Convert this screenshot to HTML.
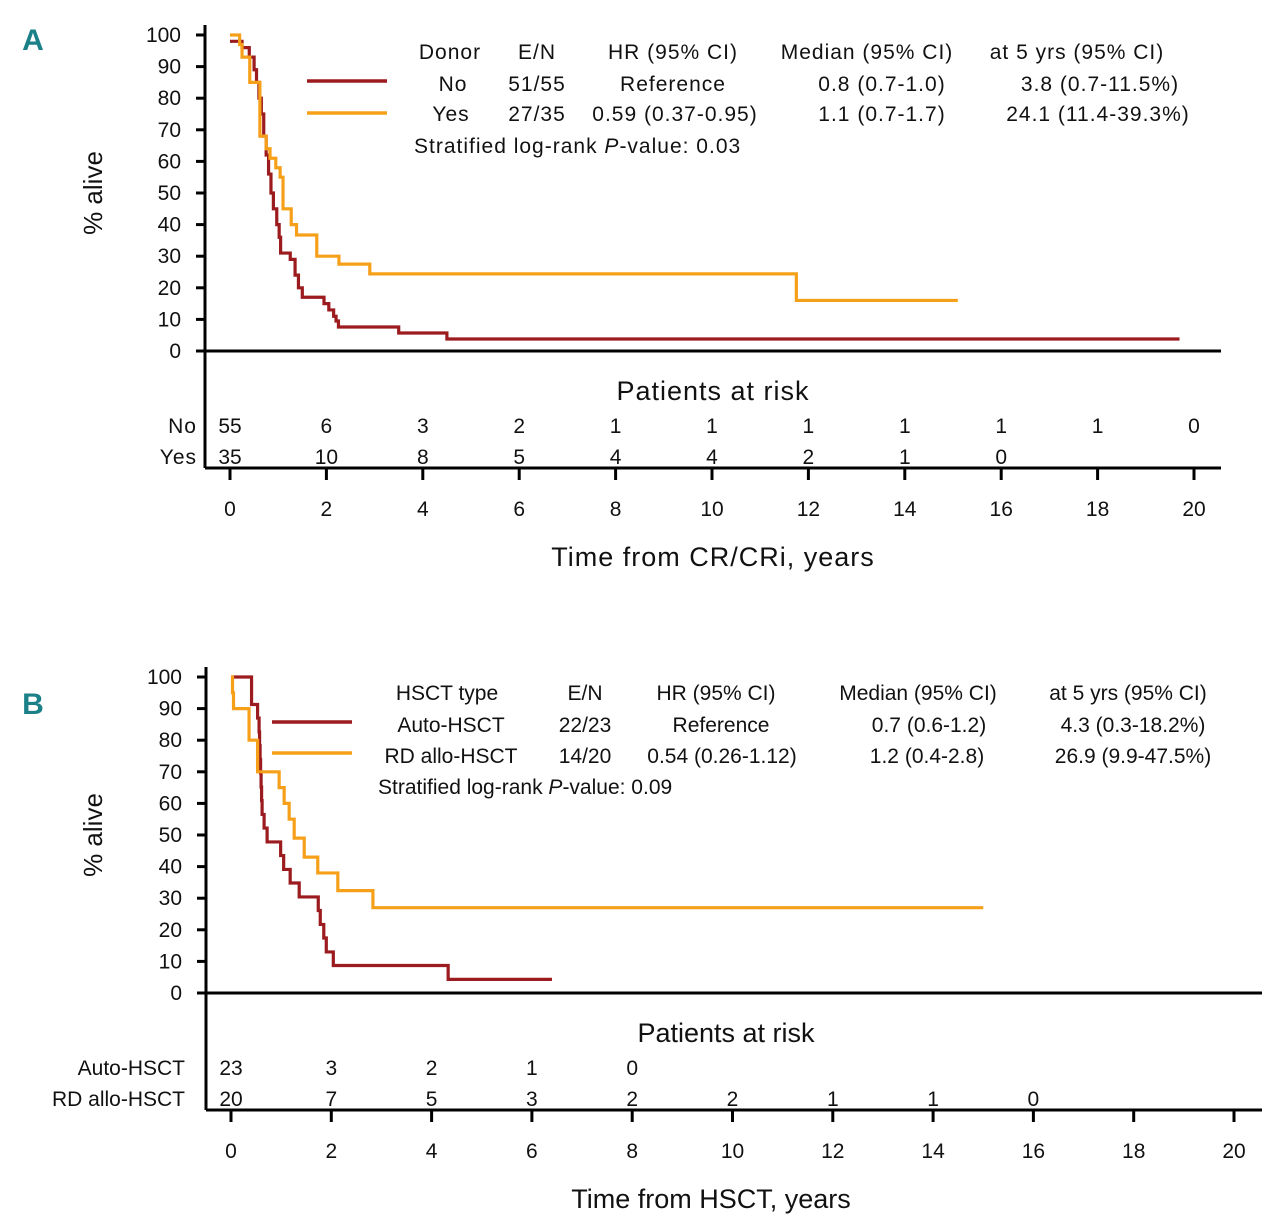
<!DOCTYPE html>
<html><head><meta charset="utf-8"><style>
html,body{margin:0;padding:0;background:#fff;}
svg text{font-family:"Liberation Sans",sans-serif;fill:#111;}
</style></head><body>
<svg id="chart" width="1280" height="1227" viewBox="0 0 1280 1227" xmlns="http://www.w3.org/2000/svg"></svg>
<script>
// ---- Panel A data ----
const aNoTimes = [0,0.25,0.4,0.5,0.55,0.6,0.65,0.7,0.75,0.8,0.85,0.9,0.97,1.02,1.05,1.25,1.35,1.42,1.5,1.95,2.05,2.15,2.2,2.25,3.5,4.5];
const aNoSurv  = [98,96,93,89,85,80,75,68,62,56,50,45,40,36,31,29,24,20,17,15,13,11,9.5,7.6,5.7,3.8];
const aNoEnd = 19.7;
const aYesTimes = [0,0.2,0.25,0.41,0.62,0.75,0.83,0.95,1.04,1.1,1.27,1.38,1.8,2.26,2.9,11.75];
const aYesSurv  = [100,97,93,85,68,64,61,58,55,45,40,36.7,30,27.5,24.4,16];
const aYesEnd = 15.1;
const aRiskNo  = ["55","6","3","2","1","1","1","1","1","1","0"];
const aRiskYes = ["35","10","8","5","4","4","2","1","0"];
// ---- Panel B data ----
const bAutoTimes = [0,0.41,0.53,0.56,0.57,0.58,0.59,0.6,0.61,0.62,0.66,0.72,0.99,1.05,1.18,1.36,1.74,1.78,1.85,1.9,2.04];
const bAutoSurv  = [100,91.3,87,82.6,78.3,73.9,69.6,65.2,60.9,56.5,52.2,47.8,43.5,39.1,34.8,30.4,26.1,21.7,17.4,13,8.7];
const bAutoLast = 4.3, bAutoLastT = 4.33, bAutoEnd = 6.4;
const bAlloTimes = [0,0.03,0.05,0.36,0.53,0.96,1.06,1.16,1.26,1.46,1.73,2.13,2.83];
const bAlloSurv  = [100,95,90,80,70,65,60,55,49,43,38,32.4,27];
const bAlloEnd = 15;
const bRiskAuto = ["23","3","2","1","0"];
const bRiskAllo = ["20","7","5","3","2","2","1","1","0"];
const xTicks = [0,2,4,6,8,10,12,14,16,18,20];
const yTicks = [0,10,20,30,40,50,60,70,80,90,100];

const svg = document.getElementById('chart');
const NS = 'http://www.w3.org/2000/svg';
function mk(tag, attrs, parent){const e=document.createElementNS(NS,tag);for(const k in attrs)e.setAttribute(k,attrs[k]);(parent||svg).appendChild(e);return e;}
function txt(s,x,y,size,anchor,parent,extra){const t=mk('text',Object.assign({x:x,y:y,'font-size':size,'text-anchor':anchor||'start'},extra||{}),parent);t.textContent=s;return t;}

function panel(cfg){
  const g = mk('g',{});
  
  
  const X = t => cfg.x0 + t*(cfg.x20-cfg.x0)/20;
  const Y = s => cfg.y0 - s*(cfg.y0-cfg.y100)/100;
  const L = txt(cfg.letter, 33, cfg.letterY, 30, 'middle', g, {'font-weight':'bold',style:'fill:#1b8088'});
  
  
  const ax = mk('path',{d:`M${cfg.axX},${cfg.top} V${cfg.bottom} M${cfg.axX},${Y(0)} H${cfg.right} M${cfg.axX},${cfg.bottom} H${cfg.right}`,stroke:'#000','stroke-width':3,fill:'none'},g);
  
  
  yTicks.forEach(v=>{
    mk('line',{x1:cfg.axX-9,x2:cfg.axX,y1:Y(v),y2:Y(v),stroke:'#000','stroke-width':3},g);
    const t=txt(String(v),cfg.axX-24,Y(v)+7,21,'end',g);
    
    
  });
  xTicks.forEach(v=>{
    mk('line',{x1:X(v),x2:X(v),y1:cfg.bottom,y2:cfg.bottom+12,stroke:'#000','stroke-width':3},g);
    const t=txt(String(v),X(v),cfg.bottom+48,21,'middle',g);
    
    
  });
  const yt = txt('% alive',0,0,26,'middle',g,{transform:`translate(102,${(Y(0)+Y(100))/2}) rotate(-90)`});
  
  
  const xt = txt(cfg.xTitle,cfg.xTitleX,cfg.bottom+98,27,'middle',g,{'letter-spacing':cfg.ls});
  
  
  cfg.series.forEach(s=>{
    let d=`M${X(s.times[0])},${Y(s.surv[0])}`;
    for(let i=1;i<s.times.length;i++){d+=` H${X(s.times[i])} V${Y(s.surv[i])}`;}
    if(s.last!==undefined){d+=` H${X(s.lastT)} V${Y(s.last)}`;}
    d+=` H${X(s.end)}`;
    const p=mk('path',{d:d,stroke:s.color,'stroke-width':3.2,fill:'none'},g);
    
    
  });
  const rt = txt('Patients at risk',cfg.riskTitleX,cfg.riskY,27,'middle',g,{'letter-spacing':cfg.ls});
  
  
  cfg.risk.forEach(r=>{
    const lab=txt(r.label,cfg.riskLabelX,r.y,21,'end',g,{'letter-spacing':cfg.ls});
    
    
    r.vals.forEach((v,i)=>{
      const t=txt(v,X(xTicks[i]),r.y,21,'middle',g);
      
      
    });
  });
  cfg.legendLines.forEach(l=>{
    const ln=mk('line',{x1:l.x1,x2:l.x2,y1:l.y,y2:l.y,stroke:l.color,'stroke-width':3.5},g);
    
    
  });
  cfg.legendText.forEach(l=>{
    const t=txt(l[0],l[1],l[2],21,l[3]||'middle',g,{'letter-spacing':cfg.ls});
    if(l[4]){t.innerHTML=l[4];}
    
    
  });
}

panel({name:'panel-a',letter:'A',letterY:50,x0:230,x20:1194,y0:351,y100:35,axX:205,top:25,bottom:468,right:1221,
  xTitle:'Time from CR/CRi, years',xTitleX:713,ls:'1px',riskTitleX:713,riskY:400,riskLabelX:197,
  series:[
    {name:'curve-donor-no',times:aNoTimes,surv:aNoSurv,end:aNoEnd,color:'#9b1b1e'},
    {name:'curve-donor-yes',times:aYesTimes,surv:aYesSurv,end:aYesEnd,color:'#f6a01a'}],
  risk:[{label:'No',y:433,vals:aRiskNo},{label:'Yes',y:464,vals:aRiskYes}],
  legendLines:[{x1:307,x2:387,y:81,color:'#9b1b1e'},{x1:307,x2:387,y:113,color:'#f6a01a'}],
  legendText:[
    ['Donor',450,59],['E/N',537,59],['HR (95% CI)',673,59],['Median (95% CI)',867,59],['at 5 yrs (95% CI)',1077,59],
    ['No',453,91],['51/55',537,91],['Reference',673,91],['0.8 (0.7-1.0)',882,91],['3.8 (0.7-11.5%)',1100,91],
    ['Yes',451,121],['27/35',537,121],['0.59 (0.37-0.95)',675,121],['1.1 (0.7-1.7)',882,121],['24.1 (11.4-39.3%)',1098,121],
    ['',414,153,'start','Stratified log-rank <tspan font-style="italic">P</tspan>-value: 0.03']]
});

panel({name:'panel-b',letter:'B',letterY:714,x0:231,x20:1234,y0:993,y100:677,axX:206,top:667,bottom:1110,right:1262,
  xTitle:'Time from HSCT, years',xTitleX:711,ls:'0px',riskTitleX:726,riskY:1042,riskLabelX:185,
  series:[
    {name:'curve-auto-hsct',times:bAutoTimes,surv:bAutoSurv,last:bAutoLast,lastT:bAutoLastT,end:bAutoEnd,color:'#9b1b1e'},
    {name:'curve-rd-allo-hsct',times:bAlloTimes,surv:bAlloSurv,end:bAlloEnd,color:'#f6a01a'}],
  risk:[{label:'Auto-HSCT',y:1075,vals:bRiskAuto},{label:'RD allo-HSCT',y:1106,vals:bRiskAllo}],
  legendLines:[{x1:272,x2:352,y:722,color:'#9b1b1e'},{x1:272,x2:352,y:753,color:'#f6a01a'}],
  legendText:[
    ['HSCT type',447,700],['E/N',585,700],['HR (95% CI)',716,700],['Median (95% CI)',918,700],['at 5 yrs (95% CI)',1128,700],
    ['Auto-HSCT',451,732],['22/23',585,732],['Reference',721,732],['0.7  (0.6-1.2)',929,732],['4.3  (0.3-18.2%)',1133,732],
    ['RD allo-HSCT',451,763],['14/20',585,763],['0.54  (0.26-1.12)',722,763],['1.2  (0.4-2.8)',927,763],['26.9   (9.9-47.5%)',1133,763],
    ['',378,794,'start','Stratified log-rank <tspan font-style="italic">P</tspan>-value: 0.09']]
});
</script>
</body></html>
